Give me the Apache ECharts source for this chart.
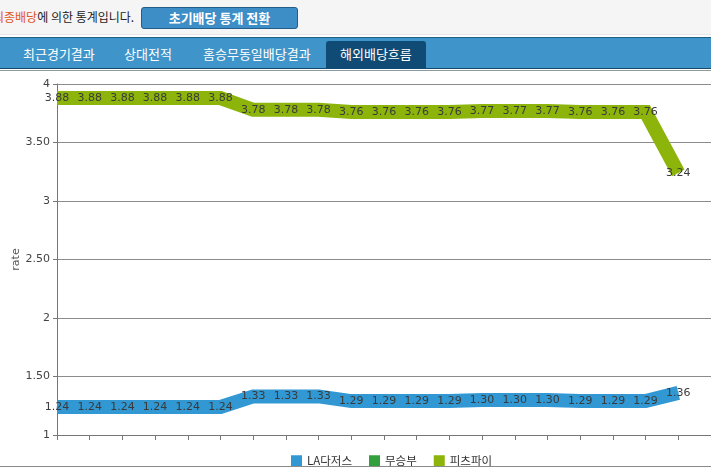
<!DOCTYPE html>
<html>
<head>
<meta charset="utf-8">
<script src="https://cdn.jsdelivr.net/npm/echarts@6/dist/echarts.min.js"></script>
<style>
  html, body { margin: 0; padding: 0; width: 711px; height: 468px; overflow: hidden; background: #fff; font-family: "Noto Sans CJK KR", sans-serif; }
  .topbar { position: absolute; left: 0; top: 0; width: 711px; height: 34px; background: #f5f5f5; border-bottom: 1px solid #e6e6e6; }
  .note { position: absolute; left: -7px; top: 9px; font-size: 12px; color: #222; white-space: nowrap; line-height: 16px; }
  .note b { color: #e0541f; font-weight: normal; }
  .btn { position: absolute; left: 141px; top: 7px; width: 155px; height: 20px; background: #3d8dc6; border: 1px solid #235e88; border-radius: 3px; color: #fff; font-size: 13px; font-weight: bold; text-align: center; line-height: 20px; }
  .tabs { position: absolute; left: 0; top: 37px; width: 711px; height: 30px; background: #3f95c9; border-top: 1px solid #1e5f86; border-bottom: 1px solid #17496a; }
  .tab { position: absolute; top: 0; height: 30px; line-height: 31px; color: #fff; font-size: 13px; white-space: nowrap; }
  .tab.sel { background: #0f4b74; top: 3px; height: 28px; line-height: 26px; border-radius: 3px 3px 0 0; padding: 0 14px; }
  .sep { position: absolute; left: 0; top: 70px; width: 711px; height: 1px; background: #8c9a9c; }
  #chart { position: absolute; left: 0; top: 71px; width: 711px; height: 395px; }
  .bottom { position: absolute; left: 0; top: 466px; width: 711px; height: 1px; background: #8a8a8a; }
</style>
</head>
<body>
<div class="topbar">
  <div class="note"><b>최종배당</b>에 의한 통계입니다.</div>
  <div class="btn">초기배당 통계 전환</div>
</div>
<div class="tabs">
  <div class="tab" style="left:23px">최근경기결과</div>
  <div class="tab" style="left:124px">상대전적</div>
  <div class="tab" style="left:203px">홈승무동일배당결과</div>
  <div class="tab sel" style="left:326px">해외배당흐름</div>
</div>
<div class="sep"></div>
<div id="chart"></div>
<div class="bottom"></div>
<script>
// Data
const categories = ['1','2','3','4','5','6','7','8','9','10','11','12','13','14','15','16','17','18','19','20'];
const seriesNames = ['LA다저스', '무승부', '피츠파이'];
const homeRates = [1.24,1.24,1.24,1.24,1.24,1.24,1.33,1.33,1.33,1.29,1.29,1.29,1.29,1.30,1.30,1.30,1.29,1.29,1.29,1.36];
const drawRates = [];
const awayRates = [3.88,3.88,3.88,3.88,3.88,3.88,3.78,3.78,3.78,3.76,3.76,3.76,3.76,3.77,3.77,3.77,3.76,3.76,3.76,3.24];
const yTicks = { min: 1, max: 4, interval: 0.5 };
const colors = ['#3198d4', '#34a03d', '#8cb40a'];

const chart = echarts.init(document.getElementById('chart'));
const labelStyle = { show: true, position: 'inside', color: '#3a3a3a', fontSize: 11, fontFamily: 'DejaVu Sans', formatter: p => p.value.toFixed(2) };
function mk(name, data, color) {
  return {
    name: name, type: 'line', data: data,
    symbol: 'rect', symbolSize: 1, showSymbol: true,
    lineStyle: { width: 14, color: color, join: 'miter' },
    itemStyle: { color: color },
    label: labelStyle,
    emphasis: { disabled: true }
  };
}
chart.setOption({
  animation: false,
  color: colors,
  textStyle: { fontFamily: 'DejaVu Sans' },
  grid: { left: 57, right: -2, top: 13, bottom: 31, containLabel: false },
  legend: {
    left: 286, top: 379, itemWidth: 11, itemHeight: 11, itemGap: 17, icon: 'rect',
    textStyle: { fontSize: 11.5, color: '#333', fontFamily: 'Noto Sans CJK KR' },
    data: seriesNames
  },
  xAxis: {
    type: 'category', data: categories, boundaryGap: false, max: 20,
    axisLine: { lineStyle: { color: '#777' } },
    axisTick: { show: true, length: 5, interval: 0, lineStyle: { color: '#777' } },
    axisLabel: { show: false },
    splitLine: { show: false }
  },
  yAxis: {
    type: 'value', min: yTicks.min, max: yTicks.max, interval: yTicks.interval,
    name: 'rate', nameLocation: 'middle', nameGap: 35, nameRotate: 90, nameMoveOverlap: false,
    nameTextStyle: { color: '#555', fontSize: 11, fontFamily: 'DejaVu Sans' },
    axisLine: { show: true, lineStyle: { color: '#777' } },
    axisTick: { show: true, length: 4, lineStyle: { color: '#777' } },
    axisLabel: { color: '#444', fontSize: 11, margin: 7, formatter: v => (v % 1 === 0 ? String(v) : v.toFixed(2)) },
    splitLine: { show: true, lineStyle: { color: '#8c8c8c' } }
  },
  series: [
    mk(seriesNames[0], homeRates, colors[0]),
    mk(seriesNames[1], drawRates, colors[1]),
    mk(seriesNames[2], awayRates, colors[2])
  ]
});
</script>
</body>
</html>
